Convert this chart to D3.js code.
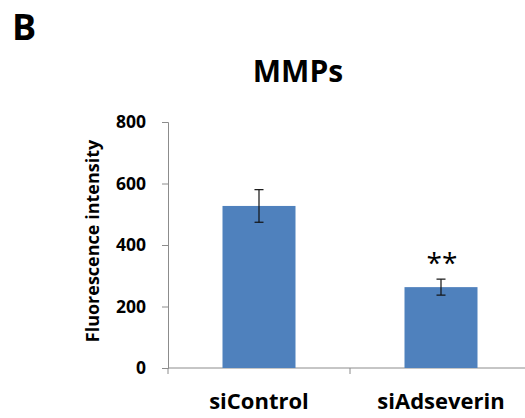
<!DOCTYPE html>
<html>
  <head>
    <meta charset="utf-8">
    <title>MMPs</title>
    <script src="https://d3js.org/d3.v7.min.js"></script>
    <style>
      body { margin: 0; background: #fff; }
      text { font-family: "Open Sans", "Noto Sans", sans-serif; font-weight: bold; fill: #000; }
    </style>
  </head>
  <body>
    <svg width="525" height="418"></svg>

    <script type="text/javascript">
      var categories = ["siControl", "siAdseverin"];
      var means = [527, 263];
      var errors = [53, 26];
      var marks = ["", "**"];
      var yTicks = [0, 200, 400, 600, 800];

      var margin = {top: 122, right: 0, bottom: 50, left: 168};
      var width = 532 - margin.left;
      var height = 368 - margin.top;

      var svg = d3.select("svg");

      svg.append("text").attr("x", 12).attr("y", 40)
        .style("font-size", "36px").text("B");

      svg.append("text").attr("x", 298).attr("y", 82)
        .attr("text-anchor", "middle")
        .style("font-size", "30px").text("MMPs");

      var g = svg.append("g")
        .attr("transform", "translate(" + margin.left + "," + margin.top + ")");

      var yScale = d3.scaleLinear().domain([0, 800]).range([height, 0]);

      // y axis
      var yAxis = d3.axisLeft(yScale).tickValues(yTicks).tickSize(6).tickPadding(16);
      var yAxisGroup = g.append("g").attr("class", "yAxis").call(yAxis);
      yAxisGroup.select(".domain").attr("stroke", "#8c8c8c");
      yAxisGroup.selectAll(".tick line").attr("stroke", "#8c8c8c");
      yAxisGroup.selectAll(".tick text").style("font-size", "17.5px")
        .style("font-family", "'Open Sans', sans-serif").style("font-weight", "bold");

      // x axis baseline with category separators
      g.append("line").attr("x1", 0).attr("x2", width)
        .attr("y1", height).attr("y2", height).attr("stroke", "#8c8c8c");
      var step = width / categories.length;
      g.selectAll(".sep").data(d3.range(categories.length))
        .enter().append("line").attr("class", "sep")
        .attr("x1", d => d * step).attr("x2", d => d * step)
        .attr("y1", height).attr("y2", height + 6).attr("stroke", "#8c8c8c");

      g.selectAll(".xlabel").data(categories).enter().append("text")
        .attr("class", "xlabel")
        .attr("x", (d, i) => i * step + step / 2)
        .attr("y", height + 41)
        .attr("text-anchor", "middle")
        .style("font-size", "22px")
        .text(d => d);

      // bars
      g.selectAll("rect").data(categories).enter().append("rect")
        .attr("x", (d, i) => i * step + step / 2 - 36.5)
        .attr("width", 73)
        .attr("y", (d, i) => yScale(means[i]))
        .attr("height", (d, i) => height - yScale(means[i]))
        .attr("fill", "#4f81bd");

      // error bars
      var eb = g.selectAll(".err").data(categories).enter().append("g").attr("class", "err")
        .attr("transform", (d, i) => "translate(" + (i * step + step / 2) + ",0)");
      eb.append("line").attr("x1", 0).attr("x2", 0)
        .attr("y1", (d, i) => yScale(means[i] + errors[i]))
        .attr("y2", (d, i) => yScale(means[i] - errors[i]))
        .attr("stroke", "#111").attr("stroke-width", 1.2);
      eb.append("line").attr("x1", -4.5).attr("x2", 4.5)
        .attr("y1", (d, i) => yScale(means[i] + errors[i]))
        .attr("y2", (d, i) => yScale(means[i] + errors[i]))
        .attr("stroke", "#111").attr("stroke-width", 1.2);
      eb.append("line").attr("x1", -4.5).attr("x2", 4.5)
        .attr("y1", (d, i) => yScale(means[i] - errors[i]))
        .attr("y2", (d, i) => yScale(means[i] - errors[i]))
        .attr("stroke", "#111").attr("stroke-width", 1.2);
      eb.append("text")
        .attr("x", 1)
        .attr("y", (d, i) => yScale(means[i] + errors[i]) - 6)
        .attr("text-anchor", "middle")
        .style("font-size", "28px").style("font-weight", "normal")
        .text((d, i) => marks[i]);

      // y label
      svg.append("text")
        .attr("transform", "translate(99,241) rotate(-90)")
        .attr("text-anchor", "middle")
        .style("font-size", "18px")
        .text("Fluorescence intensity");
    </script>
  </body>
</html>
